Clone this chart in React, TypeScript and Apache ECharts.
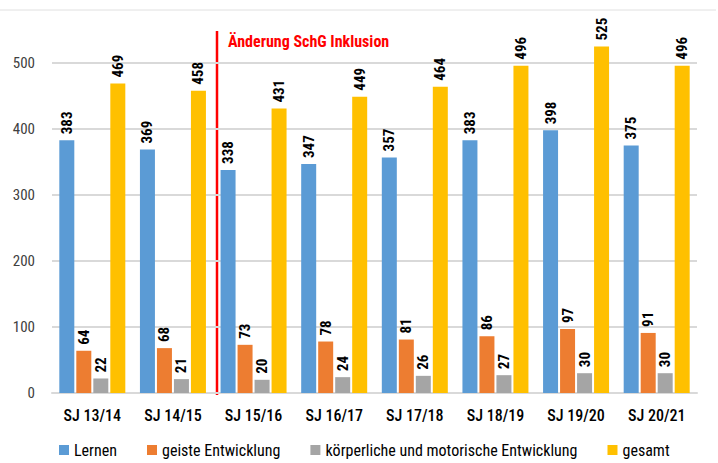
import React, { useEffect, useRef } from "react";
import * as echarts from "echarts";

const categories = ["SJ 13/14", "SJ 14/15", "SJ 15/16", "SJ 16/17", "SJ 17/18", "SJ 18/19", "SJ 19/20", "SJ 20/21"];
const lernen = [383, 369, 338, 347, 357, 383, 398, 375];
const geistig = [64, 68, 73, 78, 81, 86, 97, 91];
const koerper = [22, 21, 20, 24, 26, 27, 30, 30];
const gesamt = [469, 458, 431, 449, 464, 496, 525, 496];
const seriesNames = ["Lernen", "geiste Entwicklung", "körperliche und motorische Entwicklung", "gesamt"];
const colors = ["#5B9BD5", "#ED7D31", "#A5A5A5", "#FFC000"];
const annotation = "Änderung SchG Inklusion";

const FONT = "'Liberation Sans Narrow', 'Arial Narrow', 'Roboto Condensed', 'Liberation Sans', sans-serif";
const BAR_W = 15;
const BAR_GAP = 2;

export default function App() {
  const ref = useRef<HTMLDivElement>(null);
  useEffect(() => {
    if (!ref.current) return;
    const chart = echarts.init(ref.current, null, { renderer: "svg" });
    const data = [lernen, geistig, koerper, gesamt];
    const groupW = 4 * BAR_W + 3 * BAR_GAP;
    chart.setOption({
      animation: false,
      backgroundColor: "#fff",
      grid: { left: 52, right: 21, top: 63, bottom: 70 },
      legend: {
        bottom: 0,
        left: 54,
        itemWidth: 10,
        itemHeight: 10,
        itemGap: 30,
        icon: "rect",
        textStyle: { fontFamily: FONT, fontSize: 16, color: "#000" },
        data: seriesNames,
      },
      xAxis: {
        type: "category",
        data: categories,
        axisTick: { show: false },
        axisLine: { lineStyle: { color: "#d9d9d9", width: 2 } },
        axisLabel: { fontFamily: FONT, fontSize: 16, fontWeight: 500, color: "#000", margin: 14 },
      },
      yAxis: {
        type: "value",
        min: 0,
        max: 500,
        interval: 100,
        axisLine: { show: false },
        axisTick: { show: false },
        splitLine: { lineStyle: { color: "#d9d9d9", width: 2 } },
        axisLabel: { fontFamily: FONT, fontSize: 15, color: "#404040", margin: 17 },
      },
      series: seriesNames.map((name, i) => ({
        name,
        type: "bar",
        data: data[i],
        barWidth: BAR_W,
        barGap: `${(BAR_GAP / BAR_W) * 100}%`,
        clip: false,
        itemStyle: { color: colors[i] },
        label: {
          show: true,
          position: "top",
          rotate: 90,
          align: "left",
          verticalAlign: "middle",
          distance: 6,
          fontFamily: FONT,
          fontSize: 15,
          fontWeight: "bold",
          color: "#000",
        },
      })),
      graphic: [
        { type: "line", shape: { x1: 0, y1: 10, x2: 716, y2: 10 }, style: { stroke: "#e0e0e0", lineWidth: 1 } },
        { type: "line", shape: { x1: 217, y1: 31, x2: 217, y2: 395 }, style: { stroke: "#ff0000", lineWidth: 2.5 } },
        {
          type: "text",
          x: 228,
          y: 41,
          style: {
            text: annotation,
            fill: "#ff0000",
            font: `bold 16px ${FONT}`,
            verticalAlign: "middle",
          },
        },
      ],
    });
    return () => chart.dispose();
  }, []);
  return <div ref={ref} style={{ width: 718, height: 463, position: "absolute", left: 0, top: 0 }} />;
}
